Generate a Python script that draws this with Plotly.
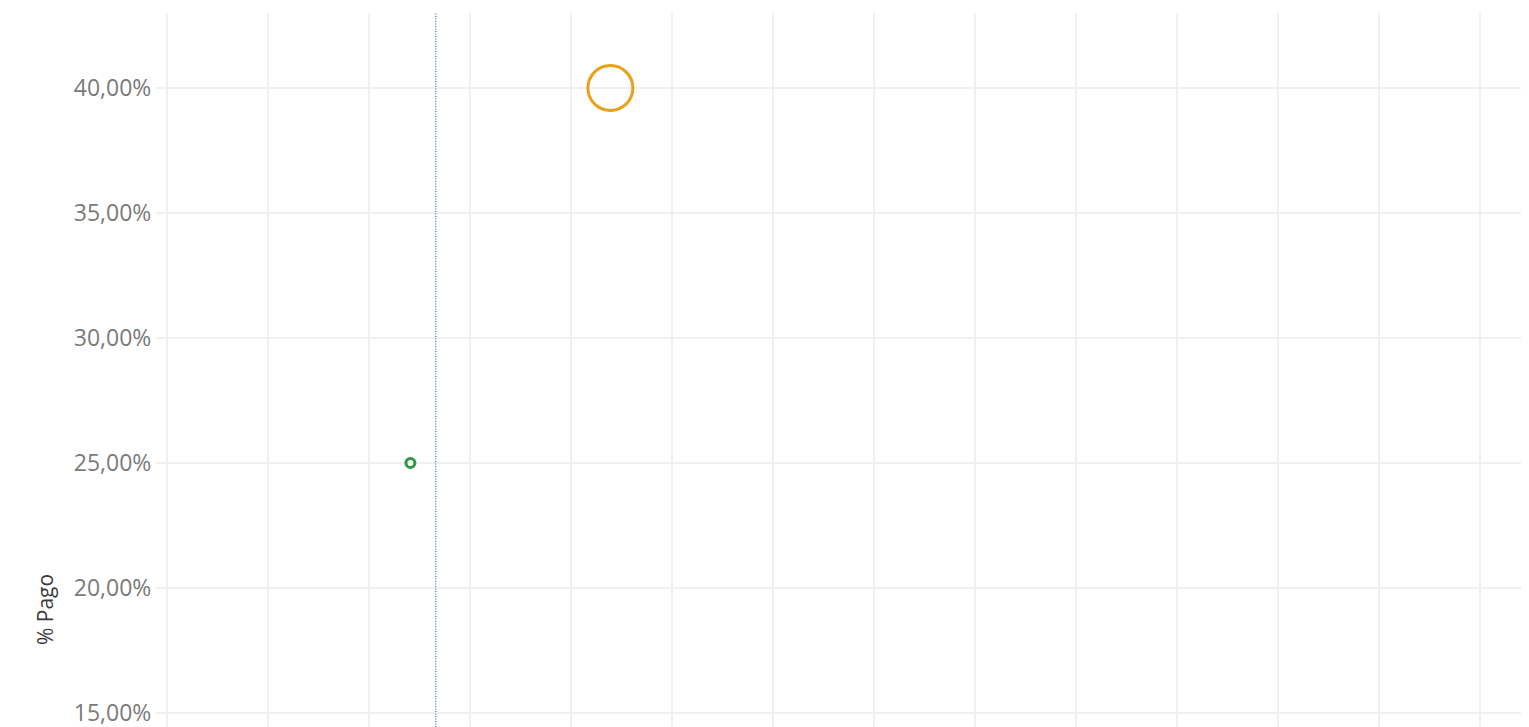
import plotly.graph_objects as go

# Data
series_names = ["Grupo A", "Grupo B"]
x_values = [2.41, 4.39]
pct_pago = [0.25, 0.40]
reference_x = 2.66

y_ticks = [0.15, 0.20, 0.25, 0.30, 0.35, 0.40]
x_ticks = list(range(0, 14))

GRID = "#f0f0f0"
colors = ["#2f9646", "#e8a118"]
marker_sizes = [9, 45]

# page body has an 8px default margin; compensate so the plot lands where the reference has it
W, H = 1521, 719
L, T = 159, 5
PW = W - L
PH = H - T

fig = go.Figure()
for name, xv, yv, col, sz in zip(series_names, x_values, pct_pago, colors, marker_sizes):
    fig.add_trace(go.Scatter(
        x=[xv], y=[yv], mode="markers", name=name,
        marker=dict(size=sz, color="rgba(0,0,0,0)", line=dict(color=col, width=3)),
        hovertemplate="%{y:.2%}<extra></extra>",
    ))

fig.add_shape(type="line", xref="x", yref="paper", x0=reference_x, x1=reference_x,
              y0=0, y1=1, line=dict(color="#5f88bd", width=1.5, dash="1px,1.5px"))

# axis title (positioned low, as in the reference)
fig.add_annotation(text="% Pago", textangle=-90, xref="paper", yref="paper",
                   x=(37 - L) / PW, y=(H - 602) / PH, showarrow=False,
                   xanchor="center", yanchor="middle",
                   font=dict(family="Open Sans", size=21, color="#3a3a3a"))

fig.update_layout(
    width=W, height=H,
    margin=dict(l=L, r=0, t=T, b=0),
    paper_bgcolor="white", plot_bgcolor="white",
    showlegend=False,
    separators=",.",
    font=dict(family="Open Sans"),
)
fig.update_xaxes(range=[0, 13.485], tickvals=x_ticks, showticklabels=False,
                 showgrid=True, gridcolor=GRID, gridwidth=1.5,
                 zeroline=True, zerolinecolor=GRID, zerolinewidth=1.5,
                 showline=False, ticks="")
fig.update_yaxes(range=[0.1444, 0.43], tickvals=y_ticks, tickformat=".2%",
                 showgrid=True, gridcolor=GRID, gridwidth=1.5, zeroline=False,
                 ticks="outside", ticklen=10, tickcolor=GRID, tickwidth=1.5,
                 ticklabeloverflow="allow",
                 tickfont=dict(family="Open Sans", size=23, color="#7a7a7a"),
                 showline=False)

fig.write_html("out.html")
